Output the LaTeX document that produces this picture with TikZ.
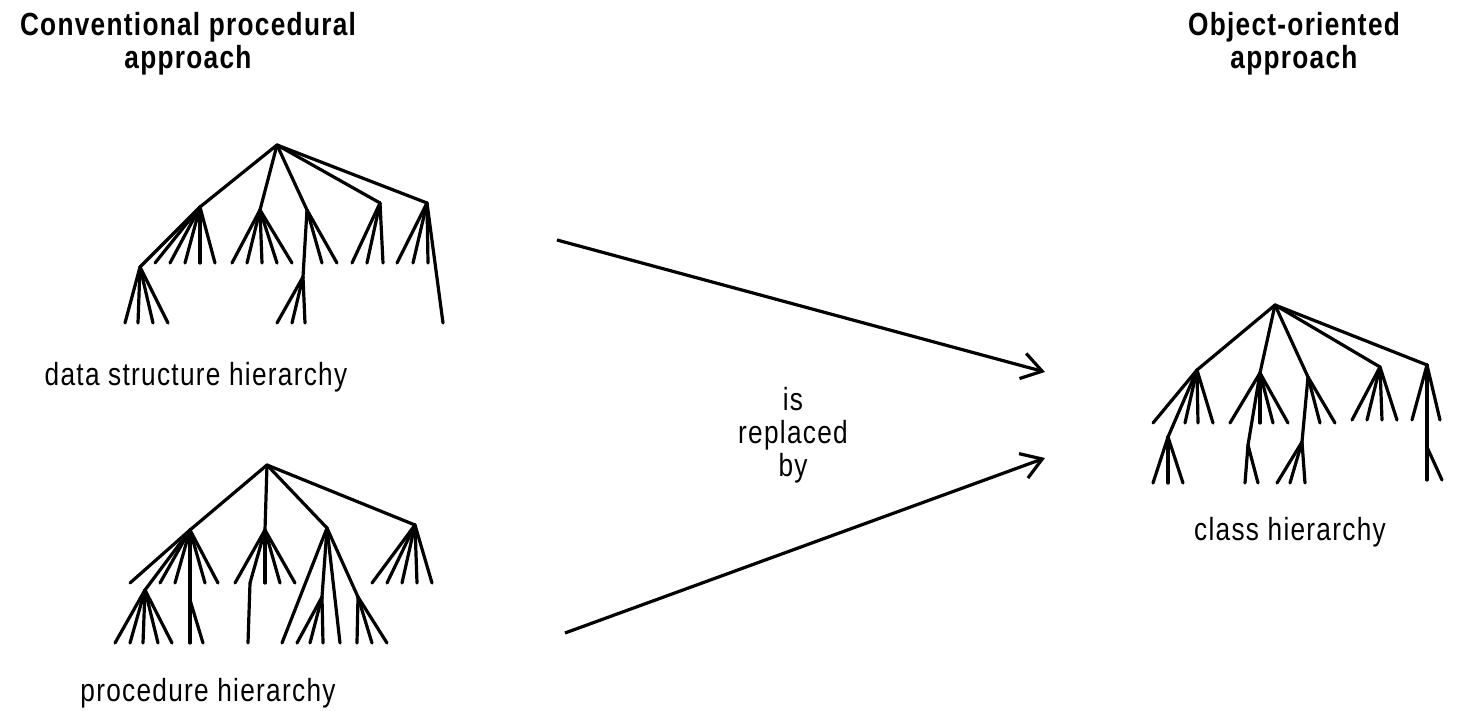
\documentclass[tikz,border=0pt]{standalone}
\usepackage{fontspec}
\setmainfont{Liberation Sans}
\newfontfamily\tallfont[FakeStretch=0.82,LetterSpace=4]{Liberation Sans}
\usetikzlibrary{arrows.meta}
\tikzset{
  br/.style={line width=1.6pt,line cap=round},
  lab/.style={font=\tallfont\fontsize{16}{16.5}\selectfont,inner sep=0pt,align=center},
  head/.style={lab,font=\tallfont\fontsize{16}{16.5}\selectfont\bfseries},
  repl/.style={line width=1.6pt,->},
}
% fan of leaves: parent, leaf row y, leaf xs
\newcommand\fan[3]{\foreach \u in {#3} {\draw[br] (#1)--(\u,#2);}}

\begin{document}
\begin{tikzpicture}[x=.5pt,y=-.5pt,>={Straight Barb[length=10pt,width=13pt]}]
\useasboundingbox (0,0) rectangle (1464,711);

\node[head,anchor=north] (convhead) at (188,12) {Conventional procedural\\approach};
\node[head,anchor=north] (oohead) at (1294,12) {Object-oriented\\approach};

% data structure hierarchy
\coordinate (dr) at (277,145);
\coordinate (da) at (200,207); \coordinate (db) at (260,210);
\coordinate (dc) at (307,210); \coordinate (dd) at (380,203);
\coordinate (de) at (427,203);
\coordinate (da1) at (140,267); \coordinate (dc1) at (303,277);
\foreach \k in {da,db,dc,dd,de} {\draw[br] (dr)--(\k);}
\draw[br] (da)--(da1); \draw[br] (dc)--(dc1);
\fan{da}{263}{155,170,185,200,215}
\fan{da1}{323}{125,138,153,168}
\fan{db}{263}{232,247,262,277,292}
\fan{dc}{263}{322,337}
\fan{dc1}{323}{277,292,305}
\fan{dd}{263}{352,367,383}
\fan{de}{263}{397,413,428}
\draw[br] (de)--(443,323);
\node[lab,anchor=base] (dslab) at (196,386) {data structure hierarchy};

% procedure hierarchy
\coordinate (pr) at (267,465);
\coordinate (pa) at (190,530); \coordinate (pb) at (265,530);
\coordinate (pc) at (327,528); \coordinate (pd) at (415,525);
\coordinate (pa1) at (145,590); \coordinate (pc1) at (322,597);
\coordinate (pc2) at (358,597);
\foreach \k in {pa,pb,pc,pd} {\draw[br] (pr)--(\k);}
\draw[br] (pa)--(pa1); \draw[br] (pc)--(pc1); \draw[br] (pc)--(pc2);
\fan{pa}{583}{130,160,175,205,218}
\draw[br] (pa)--(190,643); \draw[br] (190,600)--(203,643);
\fan{pa1}{643}{115,130,143,158,172}
\fan{pb}{583}{235,250,265,280,295}
\draw[br] (250,583)--(248,643);
\fan{pc}{643}{282,340}
\fan{pc1}{643}{297,310,323}
\fan{pc2}{643}{357,372,387}
\fan{pd}{583}{372,387,402,417,432}
\node[lab,anchor=base] (prlab) at (208,701) {procedure hierarchy};

% class hierarchy
\coordinate (cr) at (1275,305);
\coordinate (ca) at (1197,370); \coordinate (cb) at (1260,373);
\coordinate (cc) at (1308,377); \coordinate (cd) at (1380,367);
\coordinate (ce) at (1427,365);
\coordinate (ca1) at (1168,437); \coordinate (cb1) at (1248,445);
\coordinate (cc1) at (1302,442); \coordinate (ce1) at (1427,447);
\foreach \k in {ca,cb,cc,cd,ce} {\draw[br] (cr)--(\k);}
\draw[br] (ca)--(ca1); \draw[br] (cb)--(cb1);
\draw[br] (cc)--(cc1); \draw[br] (ce)--(ce1);
\fan{ca}{423}{1153,1185,1198,1213}
\fan{ca1}{483}{1153,1168,1183}
\fan{cb}{423}{1230,1260,1273,1288}
\fan{cb1}{483}{1245,1258}
\fan{cc}{423}{1320,1335}
\fan{cc1}{483}{1277,1290,1305}
\fan{cd}{420}{1352,1367,1382,1397}
\fan{ce}{420}{1412,1440}
\fan{ce1}{480}{1427,1442}
\node[lab,anchor=base] (cllab) at (1290,541) {class hierarchy};

% is replaced by
\coordinate (dsout) at (557,240); \coordinate (prout) at (565,633);
\coordinate (clinup) at (1045,372); \coordinate (clinlo) at (1045,458);
\draw[repl] (dsout)--(clinup);
\draw[repl] (prout)--(clinlo);
\node[lab,anchor=north] (repllab) at (793,387) {is\\replaced\\by};
\end{tikzpicture}
\end{document}
